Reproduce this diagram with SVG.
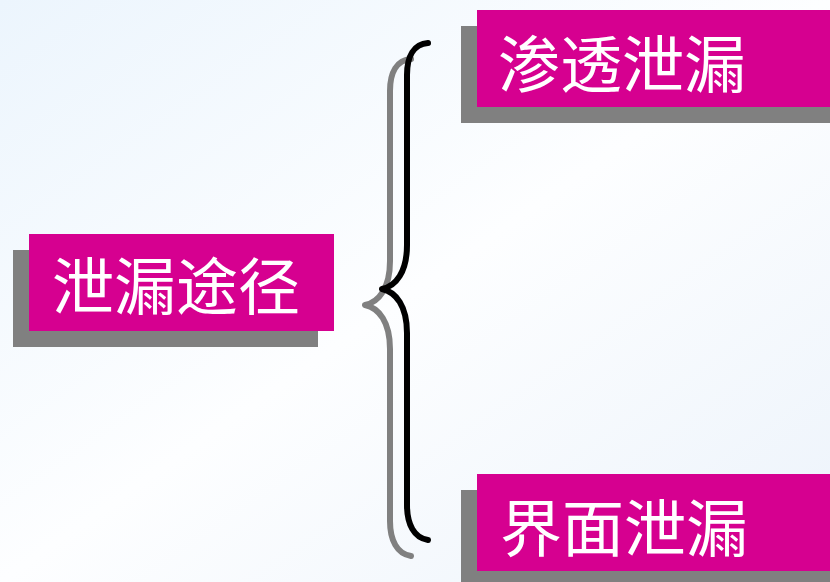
<svg xmlns="http://www.w3.org/2000/svg" width="830" height="582" viewBox="0 0 830 582">
<defs>
<linearGradient id="bg" x1="0" y1="0" x2="1" y2="1">
<stop offset="0" stop-color="#ecf5fd"/>
<stop offset="0.5" stop-color="#fdfeff"/>
<stop offset="1" stop-color="#ecf3fb"/>
</linearGradient>
<path id="brace" d="M428,43 C414,44 407,56 407,75 L407,245 C407,272 396,286 382,289 C396,292 407,306 407,333 L407,505 C407,524 414,538 428,540"/>
</defs>
<style>
.shadow{fill:#808080}
.box{fill:#d60090}
.lbl{font-family:"Noto Sans CJK SC","Noto Sans CJK TC",sans-serif;font-size:62px;fill:#ffffff}
.br{fill:none;stroke-width:6;stroke-linecap:round;stroke-linejoin:round}
</style>
<rect width="830" height="582" fill="url(#bg)"/>
<g id="connectors">
<use href="#brace" class="br" stroke="#808080" transform="translate(-17,16)"/>
<use href="#brace" class="br" stroke="#000000"/>
</g>
<g id="node-root">
<rect class="shadow" x="13" y="250" width="305" height="97"/>
<rect class="box" x="29" y="234" width="305" height="97"/>
<text class="lbl" x="52" y="310">泄漏途径</text>
</g>
<g id="node-top">
<rect class="shadow" x="461" y="26" width="369" height="97"/>
<rect class="box" x="477" y="10" width="353" height="97"/>
<text class="lbl" x="498" y="88">渗透泄漏</text>
</g>
<g id="node-bottom">
<rect class="shadow" x="461" y="490" width="369" height="97"/>
<rect class="box" x="477" y="474" width="353" height="97"/>
<text class="lbl" x="500" y="552">界面泄漏</text>
</g>
</svg>
